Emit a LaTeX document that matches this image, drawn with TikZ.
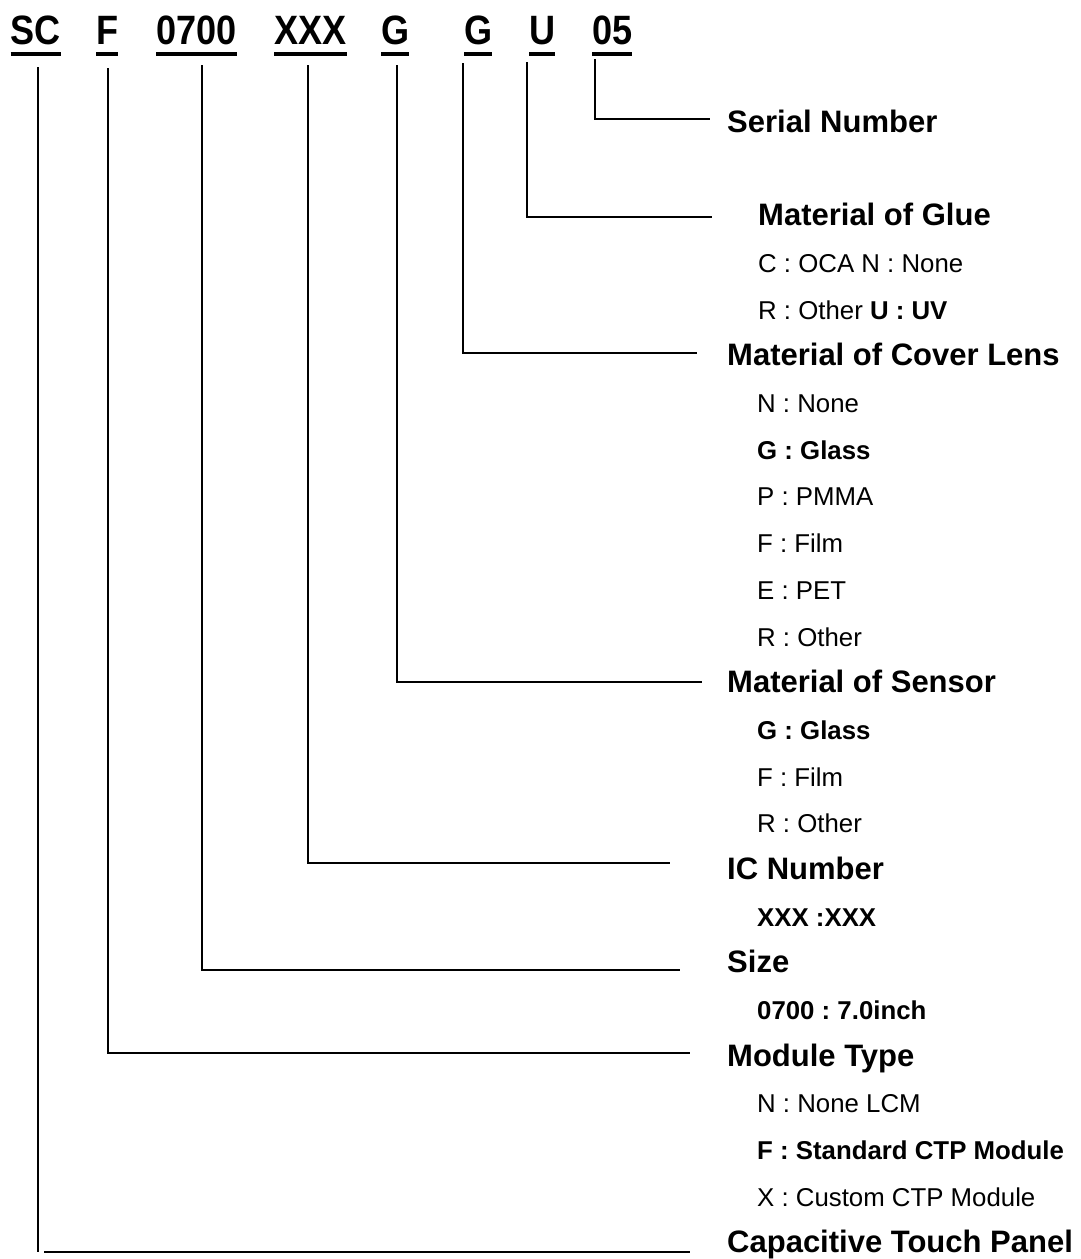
\documentclass[tikz,border=0pt]{standalone}
\usepackage{fontspec}
\setmainfont{Liberation Sans}
\frenchspacing
\begin{document}
\begin{tikzpicture}[x=1pt,y=-1pt,
  code/.style={anchor=base west, inner sep=0pt, font=\fontsize{41}{49}\selectfont\bfseries, xscale=0.88},
  uline/.style={line width=3.6pt},
  conn/.style={line width=2.6pt},
  hdr/.style={anchor=base west, inner sep=0pt, font=\fontsize{31}{36}\selectfont\bfseries},
  sub/.style={anchor=base west, inner sep=0pt, font=\fontsize{25.8}{30}\selectfont}]
\useasboundingbox (0,0) rectangle (1080,1259);
% code parts
\node[code] (cSC) at (10.5,44) {SC};
\node[code] (cF) at (96,44) {F};
\node[code] (c0700) at (156,44) {0700};
\node[code] (cXXX) at (274,44) {XXX};
\node[code] (cG1) at (381,44) {G};
\node[code] (cG2) at (464,44) {G};
\node[code] (cU) at (529,44) {U};
\node[code] (c05) at (592,44) {05};
\foreach \n in {cSC,cF,c0700,cXXX,cG1,cG2,cU,c05}
  \draw[uline] ([yshift=-10pt]\n.base west) -- ([yshift=-10pt]\n.base east);
% labels
\node[hdr] (lSerial) at (727,132.5) {Serial Number};
\node[hdr] (lGlue) at (758,225.9) {Material of Glue};
\node[sub] (sGlue1) at (758,272.5) {C : OCA N : None};
\node[sub] (sGlue2) at (758,319.2) {R : Other \textbf{U : UV}};
\node[hdr] (lLens) at (727,365.9) {Material of Cover Lens};
\node[sub] (sLens1) at (757,412.6) {N : None};
\node[sub] (sLens2) at (757,459.3) {\bfseries G : Glass};
\node[sub] (sLens3) at (757,505.9) {P : PMMA};
\node[sub] (sLens4) at (757,552.6) {F : Film};
\node[sub] (sLens5) at (757,599.3) {E : PET};
\node[sub] (sLens6) at (757,646.0) {R : Other};
\node[hdr] (lSensor) at (727,692.7) {Material of Sensor};
\node[sub] (sSens1) at (757,739.3) {\bfseries G : Glass};
\node[sub] (sSens2) at (757,786.0) {F : Film};
\node[sub] (sSens3) at (757,832.7) {R : Other};
\node[hdr] (lIC) at (727,879.4) {IC Number};
\node[sub] (sIC) at (757,926.1) {\bfseries XXX :XXX};
\node[hdr] (lSize) at (727,972.7) {Size};
\node[sub] (sSize) at (757,1019.4) {\bfseries 0700 : 7.0inch};
\node[hdr] (lModule) at (727,1066.1) {Module Type};
\node[sub] (sMod1) at (757,1112.8) {N : None LCM};
\node[sub] (sMod2) at (757,1159.5) {\bfseries F : Standard CTP Module};
\node[sub] (sMod3) at (757,1206.1) {X : Custom CTP Module};
\node[hdr] (lCTP) at (727,1252.8) {Capacitive Touch Panel};
% connector end points
\coordinate (t05) at (595,59);   \coordinate (e05) at (710,119);
\coordinate (tU) at (527,62);    \coordinate (eU) at (712,217);
\coordinate (tG2) at (463,63);   \coordinate (eG2) at (697,353);
\coordinate (tG1) at (397,65);   \coordinate (eG1) at (702,682);
\coordinate (tXXX) at (308,65);  \coordinate (eXXX) at (670,863);
\coordinate (t0700) at (202,65); \coordinate (e0700) at (680,970);
\coordinate (tF) at (108,68);    \coordinate (eF) at (690,1053);
\coordinate (tSC) at (38,67);    \coordinate (bSC) at (38,1252);
\coordinate (sSC) at (44,1252);  \coordinate (eSC) at (690,1252);
\draw[conn] (t05) |- (e05);
\draw[conn] (tU) |- (eU);
\draw[conn] (tG2) |- (eG2);
\draw[conn] (tG1) |- (eG1);
\draw[conn] (tXXX) |- (eXXX);
\draw[conn] (t0700) |- (e0700);
\draw[conn] (tF) |- (eF);
\draw[conn] (tSC) -- (bSC);
\draw[conn] (sSC) -- (eSC);
\end{tikzpicture}
\end{document}
